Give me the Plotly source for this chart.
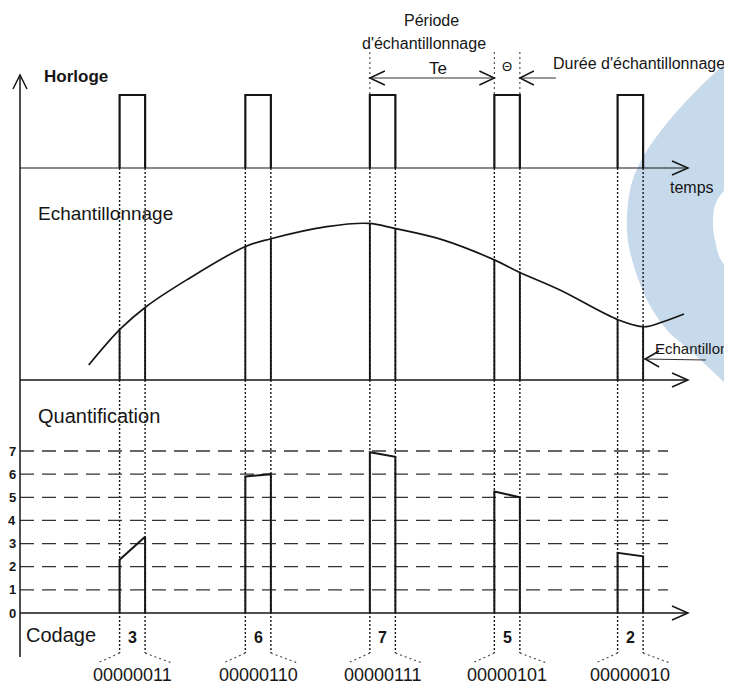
import plotly.graph_objects as go

W, H = 732, 689          # browser window
OX, OY = 8, 8            # default page margin offset of the plot div
FW, FH = W - OX, H - OY  # figure size

# ---------------- data ----------------
pulse_start = [0.80, 1.81, 2.81, 3.81, 4.80]      # sampling instants (in Te units)
theta = 0.205                                      # sampling duration
clock_high = 1.0

curve_t = [0.552, 0.806, 1.01, 1.339, 1.807, 2.008, 2.464, 2.802, 3.001,
           3.402, 3.814, 4.002, 4.337, 4.808, 5.012, 5.165, 5.333]
curve_v = [0.68, 2.32, 3.32, 4.55, 6.06, 6.41, 6.97, 7.12, 6.90,
           6.36, 5.45, 4.92, 4.09, 2.73, 2.42, 2.65, 3.00]

sample_left = [2.32, 6.06, 7.12, 5.45, 2.73]
sample_right = [3.32, 6.41, 6.90, 4.92, 2.42]

quant_left = [2.30, 5.90, 6.95, 5.25, 2.60]
quant_right = [3.30, 6.00, 6.75, 5.00, 2.45]

levels = [0, 1, 2, 3, 4, 5, 6, 7]
codes = [3, 6, 7, 5, 2]
code_labels = ["00000011", "00000110", "00000111", "00000101", "00000010"]

# ---------------- geometry helpers ----------------
X0_PX, PPT = 20, 124.5          # left axis pixel, pixels per time unit
CLK_BASE, CLK_PPU = 168, 73
SMP_BASE, SMP_PPU = 380, 22
QNT_BASE, QNT_PPU = 613, 23.14


def px2t(px):
    return (px - X0_PX) / PPT


def dpx(d):
    return d / PPT


def X(px):
    return (px - OX) / FW


def Y(py):
    return 1 - (py - OY) / FH


def yr(base, ppu):
    return [(base - H) / ppu, (base - OY) / ppu]


T_END = px2t(688)
INK = "#161616"
SANS = "Liberation Sans, Arial, sans-serif"

fig = go.Figure()

# ---------------- clock ----------------
fig.add_trace(go.Scatter(x=[0, T_END], y=[0, 0], mode="lines",
                         line=dict(color=INK, width=1.2), yaxis="y", hoverinfo="skip"))
cx, cy = [], []
for s in pulse_start:
    cx += [s, s, s + theta, s + theta, None]
    cy += [0, clock_high, clock_high, 0, None]
fig.add_trace(go.Scatter(x=cx, y=cy, mode="lines",
                         line=dict(color=INK, width=2.2), yaxis="y", hoverinfo="skip"))

# ---------------- sampling ----------------
fig.add_trace(go.Scatter(x=[0, T_END], y=[0, 0], mode="lines",
                         line=dict(color=INK, width=1.3), yaxis="y2", hoverinfo="skip"))
fig.add_trace(go.Scatter(x=curve_t, y=curve_v, mode="lines", line_shape="spline",
                         line=dict(color=INK, width=1.7), yaxis="y2", hoverinfo="skip"))
sx, sy = [], []
for s, a, b in zip(pulse_start, sample_left, sample_right):
    sx += [s, s, None, s + theta, s + theta, None]
    sy += [0, a, None, 0, b, None]
fig.add_trace(go.Scatter(x=sx, y=sy, mode="lines",
                         line=dict(color=INK, width=1.9), yaxis="y2", hoverinfo="skip"))

# ---------------- quantification ----------------
DASH_END = px2t(668)
for lv in levels[1:]:
    fig.add_trace(go.Scatter(x=[0, DASH_END], y=[lv, lv], mode="lines",
                             line=dict(color="#333", width=1.3, dash="14px,8px"),
                             yaxis="y3", hoverinfo="skip"))
fig.add_trace(go.Scatter(x=[0, T_END], y=[0, 0], mode="lines",
                         line=dict(color=INK, width=1.5), yaxis="y3", hoverinfo="skip"))
qx, qy = [], []
for s, a, b in zip(pulse_start, quant_left, quant_right):
    qx += [s, s, s + theta, s + theta, None]
    qy += [0, a, b, 0, None]
fig.add_trace(go.Scatter(x=qx, y=qy, mode="lines",
                         line=dict(color=INK, width=2.0), yaxis="y3", hoverinfo="skip"))

# ---------------- shapes ----------------
shapes = []


def smooth(pts):
    out = []
    n = len(pts)
    for i in range(n - 1):
        p0 = pts[i - 1] if i > 0 else pts[i]
        p1, p2 = pts[i], pts[i + 1]
        p3 = pts[i + 2] if i + 2 < n else pts[i + 1]
        c1 = (p1[0] + (p2[0] - p0[0]) / 6, p1[1] + (p2[1] - p0[1]) / 6)
        c2 = (p2[0] - (p3[0] - p1[0]) / 6, p2[1] - (p3[1] - p1[1]) / 6)
        out.append("C %.5f,%.5f %.5f,%.5f %.5f,%.5f" % (
            X(c1[0]), Y(c1[1]), X(c2[0]), Y(c2[1]), X(p2[0]), Y(p2[1])))
    return " ".join(out)


outer = [(745, 45), (700, 87), (667, 123), (643, 157), (630, 190), (627, 230),
         (633, 263), (647, 300), (667, 330), (693, 353), (745, 402)]
inner = [(745, 285), (723, 263), (716, 245), (713, 220), (719, 197), (745, 170)]
blue_path = ("M %.5f,%.5f " % (X(outer[0][0]), Y(outer[0][1])) + smooth(outer) +
             " L %.5f,%.5f " % (X(inner[0][0]), Y(inner[0][1])) + smooth(inner) + " Z")
shapes.append(dict(type="path", xref="paper", yref="paper", path=blue_path,
                   fillcolor="#c7daec", line=dict(width=0), layer="below"))

DOT = dict(color=INK, width=1.4, dash="2px,2px")
LIGHTDOT = dict(color="#444", width=1.1, dash="2px,3px")

# long dotted verticals at every pulse edge
for s in pulse_start:
    for e in (s, s + theta):
        shapes.append(dict(type="line", xref="x", yref="paper", x0=e, x1=e,
                           y0=Y(CLK_BASE), y1=Y(653), line=DOT, layer="below"))
    shapes.append(dict(type="line", xref="x", yref="paper", x0=s, x1=s - dpx(22),
                       y0=Y(653), y1=Y(663), line=LIGHTDOT))
    shapes.append(dict(type="line", xref="x", yref="paper", x0=s + theta, x1=s + theta + dpx(27),
                       y0=Y(653), y1=Y(663), line=LIGHTDOT))

# dotted guides above pulses 3 and 4 (Te / theta)
for e in (pulse_start[2], pulse_start[3], pulse_start[3] + theta):
    shapes.append(dict(type="line", xref="x", yref="paper", x0=e, x1=e,
                       y0=Y(52), y1=Y(95), line=LIGHTDOT))

ARW = dict(color=INK, width=1.5)


def head_right(t, py, L=16, h=7):
    return dict(type="path", xref="x", yref="paper", line=ARW,
                path="M %f,%f L %f,%f L %f,%f" % (t - dpx(L), Y(py - h), t, Y(py), t - dpx(L), Y(py + h)))


def head_left(t, py, L=15, h=7):
    return dict(type="path", xref="x", yref="paper", line=ARW,
                path="M %f,%f L %f,%f L %f,%f" % (t + dpx(L), Y(py - h), t, Y(py), t + dpx(L), Y(py + h)))


# left vertical axis with arrow
shapes.append(dict(type="line", xref="x", yref="paper", x0=0, x1=0, y0=Y(657), y1=Y(76),
                   line=dict(color=INK, width=1.5)))
shapes.append(dict(type="path", xref="x", yref="paper", line=ARW,
                   path="M %f,%f L %f,%f L %f,%f" % (-dpx(7), Y(89), 0, Y(75), dpx(7), Y(89))))
# baseline arrows
for base in (CLK_BASE, SMP_BASE, QNT_BASE):
    shapes.append(head_right(T_END, base))

# Te arrow
TE_PY = 78
shapes.append(dict(type="line", xref="x", yref="paper", x0=pulse_start[2], x1=pulse_start[3],
                   y0=Y(TE_PY), y1=Y(TE_PY), line=dict(color="#333", width=1.1)))
shapes.append(head_left(pulse_start[2], TE_PY))
shapes.append(head_right(pulse_start[3], TE_PY, L=15))
# theta arrow (from the right)
shapes.append(dict(type="line", xref="x", yref="paper", x0=pulse_start[3] + theta,
                   x1=pulse_start[3] + theta + dpx(36), y0=Y(TE_PY), y1=Y(TE_PY),
                   line=dict(color="#333", width=1.1)))
shapes.append(head_left(pulse_start[3] + theta, TE_PY, L=14))
# "Echantillon" arrow
shapes.append(dict(type="line", xref="x", yref="paper", x0=pulse_start[4] + theta,
                   x1=px2t(706), y0=Y(359), y1=Y(360), line=dict(color="#333", width=1.1)))
shapes.append(head_left(pulse_start[4] + theta + dpx(2), 359, L=14, h=8))

# ---------------- annotations ----------------
ann = []


def txt(text, x, py, size, xanchor="left", xref="paper", bold=False, color=INK):
    if bold:
        text = "<b>%s</b>" % text
    ann.append(dict(text=text, x=x, y=Y(py), xref=xref, yref="paper", xanchor=xanchor,
                    yanchor="middle", showarrow=False,
                    font=dict(size=size, family=SANS, color=color)))


txt("Horloge", X(42), 76, 17, bold=True)
txt("Période", px2t(431), 20, 16, "center", "x")
txt("d'échantillonnage", px2t(424), 44, 16, "center", "x")
txt("Te", (pulse_start[2] + pulse_start[3]) / 2 + dpx(6), 68, 17, "center", "x")
txt("Θ", pulse_start[3] + theta / 2, 66, 13, "center", "x")
txt("Durée d'échantillonnage", X(551), 64, 16)
txt("temps", X(668), 187, 16)
txt("Echantillonnage", X(36), 213, 19)
txt("Echantillon", X(653), 348, 15)
txt("Quantification", X(36), 416, 20)
txt("Codage", X(24), 635, 20)

for lv in levels:
    ann.append(dict(text="<b>%d</b>" % lv, x=X(18), y=lv, xref="paper", yref="y3",
                    xanchor="right", yanchor="middle", showarrow=False,
                    font=dict(size=13, family=SANS, color=INK)))

for s, c, lab in zip(pulse_start, codes, code_labels):
    txt(str(c), s + theta / 2, 637, 16, "center", "x", bold=True)
    txt(lab, s + theta / 2, 675, 18, "center", "x")

fig.update_layout(
    width=FW, height=FH, margin=dict(l=0, r=0, t=0, b=0),
    paper_bgcolor="white", plot_bgcolor="white", showlegend=False,
    xaxis=dict(range=[px2t(OX), px2t(W)], visible=False, fixedrange=True),
    yaxis=dict(range=yr(CLK_BASE, CLK_PPU), visible=False, fixedrange=True),
    yaxis2=dict(range=yr(SMP_BASE, SMP_PPU), visible=False, overlaying="y", fixedrange=True),
    yaxis3=dict(range=yr(QNT_BASE, QNT_PPU), visible=False, overlaying="y", fixedrange=True),
    shapes=shapes, annotations=ann,
)

fig.write_html("out.html")
